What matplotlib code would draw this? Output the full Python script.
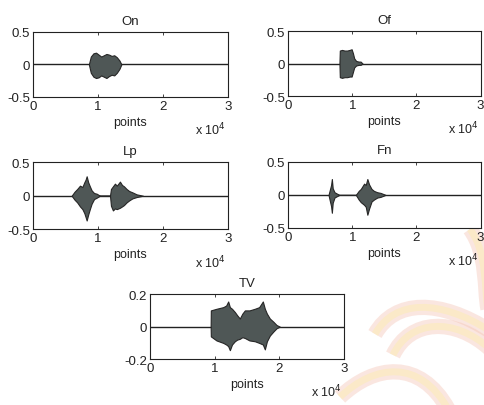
import numpy as np
import matplotlib.pyplot as plt
from matplotlib.path import Path
from matplotlib.patches import PathPatch

plt.rcParams['font.family'] = ['Liberation Sans', 'DejaVu Sans']

# obwiednie sygnalow (probka, gorna, dolna)
on_t = [8600, 8900, 9300, 9700, 10100, 10500, 10900, 11300, 11700, 12100, 12500, 12900, 13300, 13600]
on_up = [0.0, 0.12, 0.17, 0.18, 0.15, 0.12, 0.14, 0.16, 0.15, 0.13, 0.14, 0.11, 0.06, 0.0]
on_lo = [0.0, -0.13, -0.19, -0.21, -0.2, -0.17, -0.19, -0.21, -0.18, -0.16, -0.17, -0.13, -0.07, 0.0]

of_t = [8000, 8060, 8400, 8800, 9200, 9600, 9900, 10100, 10300, 10600, 11000, 11300, 11600]
of_up = [0.0, 0.2, 0.21, 0.2, 0.2, 0.21, 0.22, 0.16, 0.08, 0.04, 0.03, 0.03, 0.0]
of_lo = [0.0, -0.21, -0.22, -0.21, -0.21, -0.2, -0.2, -0.13, -0.06, -0.03, -0.02, -0.02, 0.0]

lp_t = [5950, 6400, 6800, 7230, 7600, 7900, 8100, 8260, 8500, 8750, 9020, 9400, 9800, 10300,
        11850, 12000, 12300, 12610, 12900, 13380, 13700, 14000, 14400, 14800, 15300, 15950, 16920]
lp_up = [0.0, 0.06, 0.1, 0.15, 0.13, 0.2, 0.24, 0.29, 0.2, 0.14, 0.08, 0.04, 0.03, 0.0,
         0.0, 0.1, 0.14, 0.18, 0.15, 0.21, 0.16, 0.14, 0.1, 0.07, 0.05, 0.02, 0.0]
lp_lo = [0.0, -0.06, -0.1, -0.16, -0.2, -0.26, -0.32, -0.37, -0.28, -0.2, -0.12, -0.05, -0.03, 0.0,
         0.0, -0.15, -0.22, -0.19, -0.2, -0.18, -0.16, -0.14, -0.1, -0.07, -0.04, -0.02, 0.0]

fn_t = [6300, 6460, 6700, 6820, 6950, 7230, 7600, 8000,
        10560, 11000, 11330, 11840, 12100, 12350, 12610, 13000, 13380, 13900, 14410, 15180]
fn_up = [0.0, 0.06, 0.15, 0.24, 0.1, 0.04, 0.02, 0.0,
         0.0, 0.06, 0.09, 0.17, 0.15, 0.24, 0.16, 0.09, 0.06, 0.04, 0.03, 0.0]
fn_lo = [0.0, -0.07, -0.17, -0.27, -0.12, -0.04, -0.02, 0.0,
         0.0, -0.07, -0.11, -0.15, -0.18, -0.3, -0.21, -0.1, -0.07, -0.04, -0.03, 0.0]

tv_t = [9400, 9430, 10300, 11340, 11800, 12110, 12370, 12700, 13140, 13500, 13910, 14300, 14690,
        15400, 16230, 16900, 17470, 17780, 18100, 18550, 19100, 19590, 20100]
tv_up = [0.0, 0.1, 0.11, 0.12, 0.13, 0.155, 0.12, 0.11, 0.09, 0.07, 0.05, 0.08, 0.1,
         0.1, 0.11, 0.12, 0.155, 0.11, 0.08, 0.05, 0.03, 0.01, 0.0]
tv_lo = [0.0, -0.06, -0.085, -0.1, -0.11, -0.12, -0.145, -0.11, -0.09, -0.08, -0.075, -0.065, -0.07,
         -0.085, -0.09, -0.1, -0.11, -0.14, -0.09, -0.055, -0.03, -0.01, 0.0]

panele = [
    ('On', on_t, on_up, on_lo, 0.5, [0.068, 0.759, 0.402, 0.160]),
    ('Of', of_t, of_up, of_lo, 0.5, [0.594, 0.761, 0.397, 0.160]),
    ('Lp', lp_t, lp_up, lp_lo, 0.5, [0.068, 0.433, 0.402, 0.165]),
    ('Fn', fn_t, fn_up, fn_lo, 0.5, [0.594, 0.436, 0.397, 0.163]),
    ('TV', tv_t, tv_up, tv_lo, 0.2, [0.309, 0.113, 0.400, 0.160]),
]

fig = plt.figure(figsize=(4.85, 4.06), dpi=100)
fig.patch.set_facecolor('white')

# ornament w tle (prawy dolny rog), wspolrzedne w pikselach
ornament = [
    [(375, 335), (395, 300), (440, 300), (490, 332)],
    [(393, 356), (410, 320), (455, 318), (490, 350)],
    [(340, 398), (375, 365), (420, 360), (448, 410)],
    [(470, 230), (488, 255), (484, 290), (488, 310)],
]
for pkt in ornament:
    v = [(x / 485, 1 - y / 406) for x, y in pkt]
    sciezka = Path(v, [Path.MOVETO, Path.CURVE4, Path.CURVE4, Path.CURVE4])
    fig.add_artist(PathPatch(sciezka, fill=False, edgecolor='#f4c2b2', lw=11,
                             alpha=0.4, transform=fig.transFigure, zorder=0))
    fig.add_artist(PathPatch(sciezka, fill=False, edgecolor='#fcecb8', lw=5,
                             alpha=0.6, transform=fig.transFigure, zorder=0))

for nazwa, t, up, lo, ym, poz in panele:
    ax = fig.add_axes(poz)
    ax.axhline(0, color='#222222', lw=1.0, zorder=1)
    ax.fill_between(t, lo, up, facecolor='#4f5756', edgecolor='#262626', lw=0.8, zorder=2)
    ax.set_xlim(0, 30000)
    ax.set_ylim(-ym, ym)
    ax.set_xticks([0, 10000, 20000, 30000])
    ax.set_xticklabels(['0', '1', '2', '3'])
    ax.set_yticks([-ym, 0, ym])
    ax.set_yticklabels(['-' + str(ym), '0', str(ym)])
    ax.tick_params(direction='in', top=True, right=True, length=2.5, width=0.6,
                   labelsize=9.5, colors='#222222', pad=2)
    for s in ax.spines.values():
        s.set_linewidth(0.8)
        s.set_color('#222222')
    ax.set_title(nazwa, fontsize=9.5, pad=6, color='#222222')
    ax.set_xlabel('points', fontsize=9, labelpad=3, color='#222222')
    ax.text(0.99, -0.36, r'x 10$^4$', transform=ax.transAxes, ha='right',
            va='top', fontsize=9, color='#222222')

plt.savefig('out.png', dpi=100, facecolor='white')
